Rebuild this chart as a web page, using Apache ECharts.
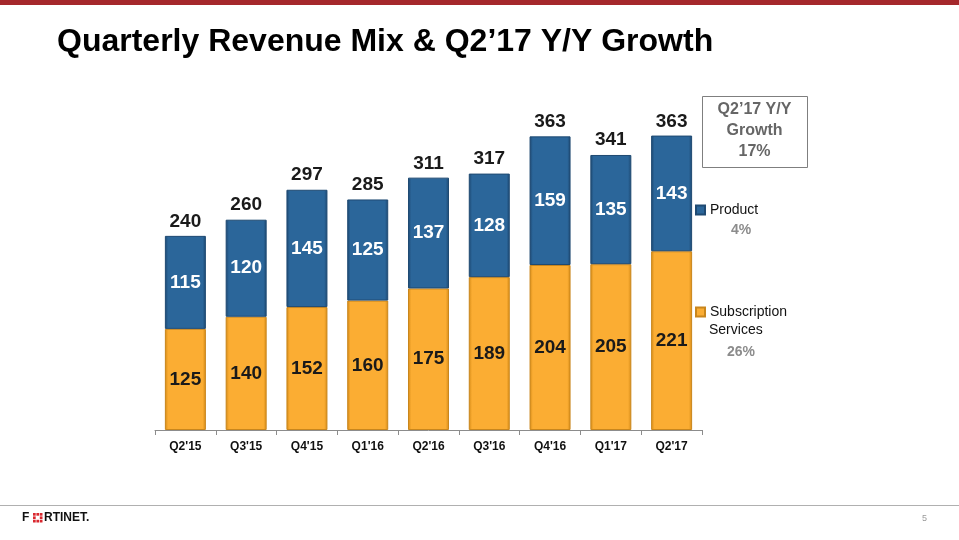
<!DOCTYPE html>
<html><head><meta charset="utf-8">
<script src="https://cdn.jsdelivr.net/npm/echarts@6/dist/echarts.min.js"></script>
<style>html,body{margin:0;padding:0;background:#fff}#c{width:959px;height:540px}</style>
</head><body><div id="c"></div>
<script>
var categories = ["Q2'15","Q3'15","Q4'15","Q1'16","Q2'16","Q3'16","Q4'16","Q1'17","Q2'17"];
var subscription = [125,140,152,160,175,189,204,205,221];
var product = [115,120,145,125,137,128,159,135,143];
var totals = [240,260,297,285,311,317,363,341,363];
var growthTitle = ["Q2’17 Y/Y","Growth","17%"];
var productGrowth = "4%";
var subscriptionGrowth = "26%";

var FONT = '"Liberation Sans", Arial, Helvetica, sans-serif';
function grad(edge, main) {
  return new echarts.graphic.LinearGradient(0,0,1,0,[
    {offset:0,color:edge},{offset:0.08,color:main},{offset:0.92,color:main},{offset:1,color:edge}]);
}
var chart = echarts.init(document.getElementById('c'));
var logoRects = [];
for (var r=0;r<3;r++) for (var q=0;q<3;q++) {
  if (r===1 && q===1) continue;
  logoRects.push({type:'rect',left:33+q*3.4,top:513+r*3.4,shape:{width:2.7,height:2.7},style:{fill:'#d9272e'}});
}
chart.setOption({
  animation:false,
  grid:{left:155,right:257,top:66,bottom:110},
  xAxis:{type:'category',data:categories,
    axisLine:{lineStyle:{color:'#8c8c8c',width:1}},
    axisTick:{show:true,length:5,lineStyle:{color:'#8c8c8c'}},
    axisLabel:{color:'#111',fontWeight:'bold',fontSize:12,fontFamily:FONT,margin:11}},
  yAxis:{type:'value',min:0,max:450,show:false,splitLine:{show:false}},
  legend:[{data:['Product'],orient:'vertical',left:695,top:203,itemWidth:9,itemHeight:9,
      icon:'rect',textStyle:{fontSize:14,color:'#111',fontFamily:FONT},itemGap:4,padding:0},
    {data:['Subscription Services'],orient:'vertical',left:695,top:305,itemWidth:9,itemHeight:9,
      icon:'rect',formatter:function(){return 'Subscription';},textStyle:{fontSize:14,color:'#111',fontFamily:FONT},padding:0}],
  series:[
    {name:'Subscription Services',type:'bar',stack:'t',barWidth:41,data:subscription,
      itemStyle:{color:grad('#d48a16','#fbad33'),borderColor:'#c9861c',borderWidth:1},
      label:{show:true,position:'inside',color:'#1a1a1a',fontWeight:'bold',fontSize:19,fontFamily:FONT}},
    {name:'Product',type:'bar',stack:'t',barWidth:41,data:product,
      itemStyle:{color:grad('#1c4770','#2b669a'),borderColor:'#1f4a72',borderWidth:1},
      label:{show:true,position:'inside',color:'#fff',fontWeight:'bold',fontSize:19,fontFamily:FONT}},
    {name:'Total',type:'scatter',data:totals,symbolSize:2,itemStyle:{color:'rgba(0,0,0,0)',opacity:1},silent:true,z:5,
      label:{show:true,position:'top',distance:4,color:'#1a1a1a',opacity:1,fontWeight:'bold',fontSize:19,fontFamily:FONT}}
  ],
  graphic:[
    {type:'rect',left:0,top:0,shape:{width:959,height:5},style:{fill:'#a5282c'}},
    {type:'text',left:57,top:26,style:{text:'Quarterly Revenue Mix & Q2’17 Y/Y Growth',font:'bold 32px '+FONT,fill:'#000'}},
    {type:'rect',left:702,top:96,shape:{width:105,height:71},style:{fill:'#fff',stroke:'#7f7f7f',lineWidth:1}},
    {type:'text',x:754.5,y:99,style:{text:growthTitle.join('\n'),font:'bold 16px '+FONT,fill:'#666',align:'center',lineHeight:21}},
    {type:'text',x:741,y:230,style:{text:productGrowth,font:'bold 14px '+FONT,fill:'#8c8c8c',align:'center',verticalAlign:'middle'}},
    {type:'text',x:709,y:330,style:{text:'Services',font:'14px '+FONT,fill:'#111',verticalAlign:'middle'}},
    {type:'text',x:741,y:352,style:{text:subscriptionGrowth,font:'bold 14px '+FONT,fill:'#8c8c8c',align:'center',verticalAlign:'middle'}},
    {type:'rect',left:0,top:505,shape:{width:959,height:1},style:{fill:'#b0b0b0'}},
    {type:'text',left:22,top:512,style:{text:'F',font:'bold 12px '+FONT,fill:'#111'}},
    {type:'group',children:logoRects},
    {type:'text',left:44,top:512,style:{text:'RTINET.',font:'bold 12px '+FONT,fill:'#111'}},
    {type:'text',x:922,y:519,style:{text:'5',font:'9px '+FONT,fill:'#999',verticalAlign:'middle'}}
  ]
});
</script></body></html>
